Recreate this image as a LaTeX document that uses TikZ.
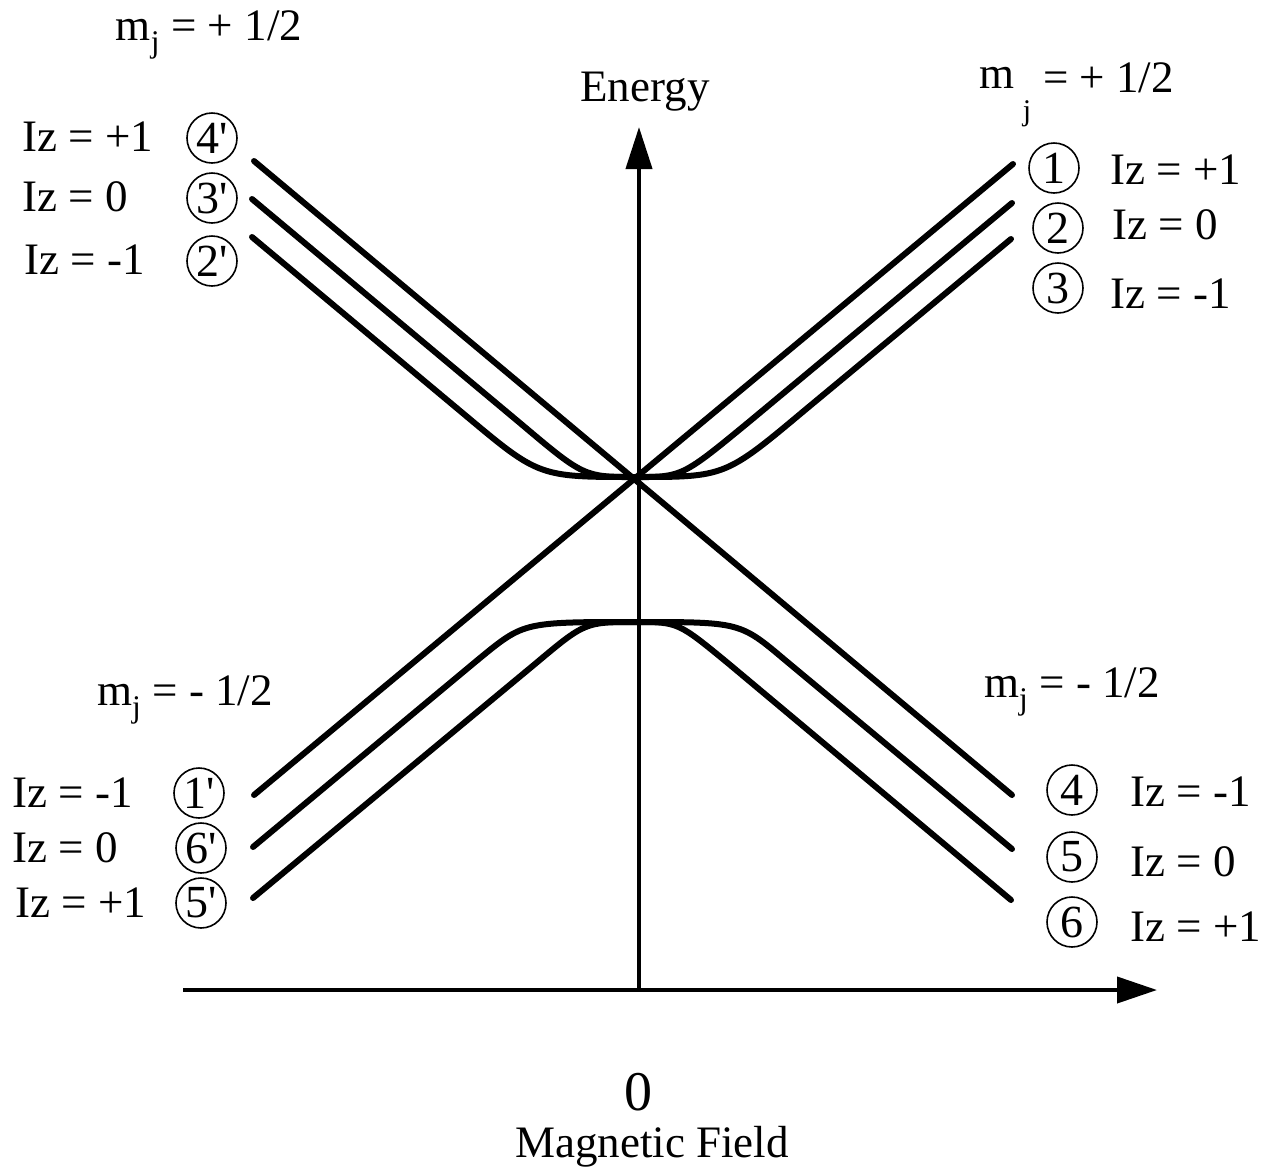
\documentclass[tikz,border=0pt]{standalone}
\usepackage{fontspec}
\setmainfont{Liberation Serif}
\newfontfamily\circfont{Liberation Serif}
\usetikzlibrary{arrows.meta}
\begin{document}
\begin{tikzpicture}[x=1pt,y=-1pt,
  level/.style={line width=6pt,line cap=round,line join=round},
  axisline/.style={line width=4pt},
  lab/.style={inner sep=0pt,font=\fontsize{45}{50}\selectfont},
  circnum/.style={circle,draw,line width=1.6pt,minimum size=50pt,inner sep=0pt,font=\circfont\fontsize{46}{50}\selectfont}]
\useasboundingbox (0,0) rectangle (1270,1171);
% axes
\coordinate (origin) at (639,990);
\coordinate (ytip) at (639,127);
\coordinate (xstart) at (183,990);
\coordinate (xtip) at (1157,990);
\draw[axisline,-{Triangle[length=42pt,width=26pt]}] (origin) -- (ytip);
\draw[axisline,-{Triangle[length=40pt,width=26pt]}] (xstart) -- (xtip);
% straight levels
\draw[level] (254,161) -- (1012,795);
\draw[level] (1013,164) -- (254,795);
% upper curves
\draw[level] (252,199) -- (520,423) .. controls (584,477) .. (636,477)
  .. controls (682,477) .. (750,421) -- (1012,203);
\draw[level] (252,237) -- (465,415) .. controls (539,477) .. (636,477)
  .. controls (725,477) .. (805,410) -- (1011,239);
% lower curves
\draw[level] (253,847) -- (480,658) .. controls (524,622) .. (636,622)
  .. controls (740,622) .. (785,660) -- (1012,849);
\draw[level] (253,898) -- (535,664) .. controls (585,622) .. (636,622)
  .. controls (678,622) .. (729,664) -- (1011,900);
% labels
\node[lab] (energy) at (645,92) {Energy};
\node[lab] (mjtl) at (209,35) {m\textsubscript{j} = + 1/2};
\node[lab] (mtr) at (997,78) {m};
\node[lab,font=\fontsize{30}{32}\selectfont] (jtr) at (1027,114) {j};
\node[lab,anchor=west] (eqtr) at (1043,78) {= + 1/2};
\node[lab] (mjbl) at (185,700) {m\textsubscript{j} = - 1/2};
\node[lab] (mjbr) at (1072,692) {m\textsubscript{j} = - 1/2};
% top left
\node[lab,anchor=west] (iztl1) at (22,137) {Iz = +1};
\node[lab,anchor=west] (iztl2) at (22,197) {Iz = 0};
\node[lab,anchor=west] (iztl3) at (24,260) {Iz = -1};
\node[circnum] (c4p) at (212,138) {4'};
\node[circnum] (c3p) at (212,198) {3'};
\node[circnum] (c2p) at (212,261) {2'};
% top right
\node[circnum] (c1) at (1054,168) {1};
\node[circnum] (c2) at (1058,228) {2};
\node[circnum] (c3) at (1058,288) {3};
\node[lab,anchor=west] (iztr1) at (1110,170) {Iz = +1};
\node[lab,anchor=west] (iztr2) at (1112,225) {Iz = 0};
\node[lab,anchor=west] (iztr3) at (1110,294) {Iz = -1};
% bottom left
\node[lab,anchor=west] (izbl1) at (12,793) {Iz = -1};
\node[lab,anchor=west] (izbl2) at (12,848) {Iz = 0};
\node[lab,anchor=west] (izbl3) at (15,903) {Iz = +1};
\node[circnum] (c1p) at (199,793) {1'};
\node[circnum] (c6p) at (201,848) {6'};
\node[circnum] (c5p) at (201,903) {5'};
% bottom right
\node[circnum] (c4) at (1072,790) {4};
\node[circnum] (c5) at (1072,857) {5};
\node[circnum] (c6) at (1072,922) {6};
\node[lab,anchor=west] (izbr1) at (1130,792) {Iz = -1};
\node[lab,anchor=west] (izbr2) at (1130,862) {Iz = 0};
\node[lab,anchor=west] (izbr3) at (1130,927) {Iz = +1};
% bottom
\node[lab,font=\fontsize{56}{58}\selectfont] (zero) at (638,1092) {0};
\node[lab] (mfield) at (652,1147) {Magnetic Field};
\end{tikzpicture}
\end{document}
